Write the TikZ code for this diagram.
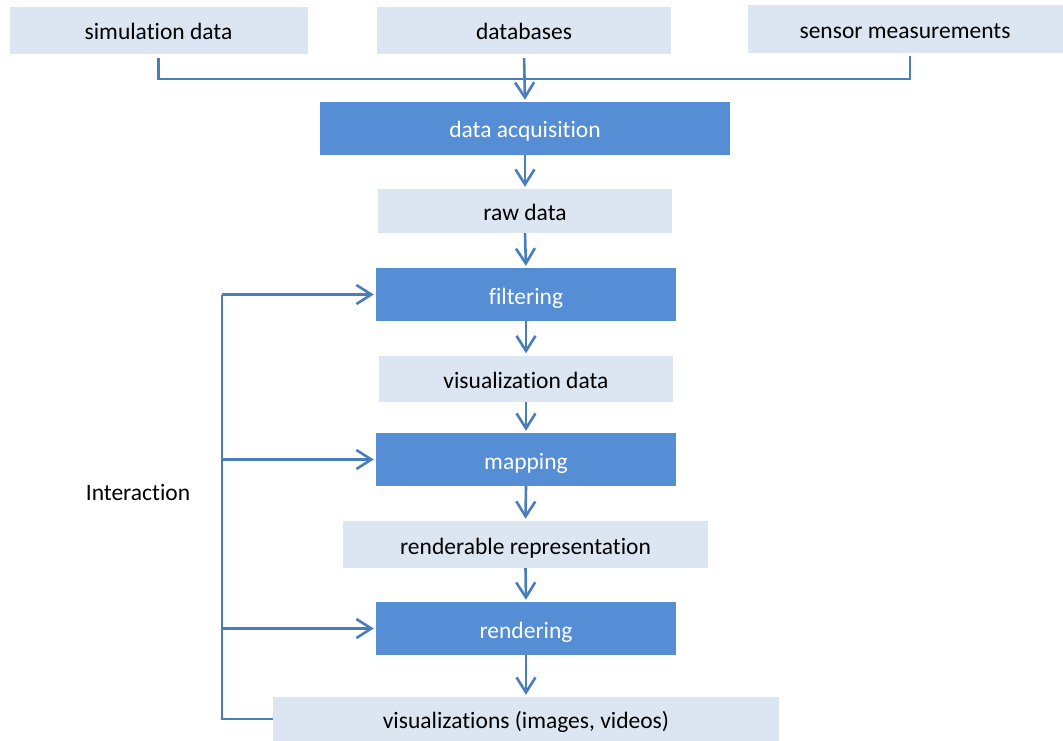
\documentclass[tikz,border=0pt]{standalone}
\usepackage{fontspec}
\setmainfont{Carlito}[Ligatures={NoCommon}]
\usetikzlibrary{arrows.meta, positioning}
\definecolor{boxlight}{HTML}{DCE6F2}
\definecolor{boxdark}{HTML}{558ED5}
\definecolor{flowline}{HTML}{4A7EBB}
\tikzset{
  databox/.style = {
    fill=boxlight, inner sep=0pt, text=black,
    text height=23pt, text depth=4pt,
    font=\fontsize{23.5}{28}\selectfont
  },
  stagebox/.style = {
    fill=boxdark, inner sep=0pt, text=white,
    text height=23pt, text depth=4pt,
    font=\fontsize{23.5}{28}\selectfont
  },
  flow/.style = {
    draw=flowline, line width=2.6pt
  },
  flowarrow/.style = {
    flow, -{Straight Barb[length=15pt, width=19pt]}, shorten >=2pt
  }
}

\begin{document}
\begin{tikzpicture}[x=1pt, y=-1pt]
  \useasboundingbox (0,0) rectangle (1063,741);

  % Sources
  \node[databox, minimum width=298pt, minimum height=47pt] (sim) at (158.5,30.5) {simulation data};
  \node[databox, minimum width=294pt, minimum height=47pt] (db) at (524,30.5) {databases};
  \node[databox, minimum width=315pt, minimum height=48pt] (sensor) at (905,29) {sensor measurements};

  % Pipeline
  \node[stagebox, minimum width=410pt, minimum height=53pt] (acq) at (525,128.5) {data acquisition};
  \node[databox, minimum width=294pt, minimum height=44pt] (raw) at (525,211) {raw data};
  \node[stagebox, minimum width=300pt, minimum height=53pt] (filt) at (526,294.5) {filtering};
  \node[databox, minimum width=294pt, minimum height=46pt] (visdata) at (526,378.5) {visualization data};
  \node[stagebox, minimum width=300pt, minimum height=53pt] (map) at (526,459.5) {mapping};
  \node[databox, minimum width=365pt, minimum height=47pt] (rendrep) at (525.5,544.5) {renderable representation};
  \node[stagebox, minimum width=300pt, minimum height=53pt] (rend) at (526,628.5) {rendering};
  \node[databox, minimum width=506pt, minimum height=44pt] (vis) at (526,719) {visualizations (images, videos)};

  % Interaction label
  \node[font=\fontsize{23.5}{28}\selectfont] (inter) at (138,492) {Interaction};

  % Merge of the sources
  \coordinate (merge) at (524,79);
  \draw[flow, shorten <=4pt] (sim.south) |- (merge);
  \draw[flow, shorten <=3pt] ([xshift=5pt]sensor.south) |- (merge);
  \draw[flowarrow, shorten <=4pt] (db.south) -- (acq.north);

  % Pipeline arrows
  \draw[flowarrow] (acq.south) -- (raw.north);
  \draw[flowarrow] (raw.south) -- (filt.north);
  \draw[flowarrow] (filt.south) -- (visdata.north);
  \draw[flowarrow] (visdata.south) -- (map.north);
  \draw[flowarrow] (map.south) -- (rendrep.north);
  \draw[flowarrow] (rendrep.south) -- (rend.north);
  \draw[flowarrow] (rend.south) -- (vis.north);

  % Interaction loop
  \coordinate (loopx) at (222,0);
  \coordinate (loop) at (filt.west -| loopx);
  \draw[flow] (vis.west) -| (loop);
  \draw[flowarrow] (loop) -- (filt.west);
  \draw[flowarrow] (map.west -| loop) -- (map.west);
  \draw[flowarrow] (rend.west -| loop) -- (rend.west);

\end{tikzpicture}
\end{document}
